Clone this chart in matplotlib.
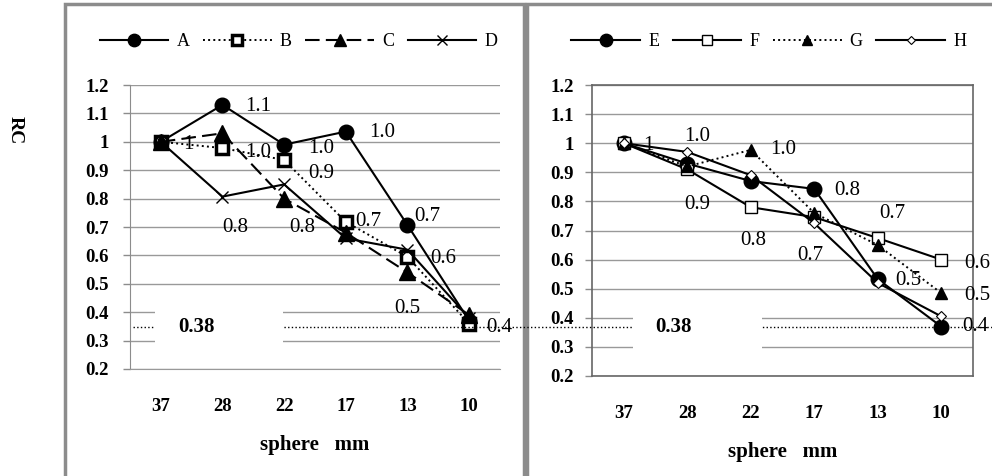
# recovery coefficient charts, two panels side by side
import matplotlib
matplotlib.use("Agg")
import matplotlib.pyplot as plt
from matplotlib.patches import Rectangle
from matplotlib.lines import Line2D

plt.rcParams['font.family'] = ['Liberation Serif', 'DejaVu Serif']
plt.rcParams['font.size'] = 12

# sphere sizes on the x axis
spheres = ["37", "28", "22", "17", "13", "10"]
y_ticks = [0.2, 0.3, 0.4, 0.5, 0.6, 0.7, 0.8, 0.9, 1.0, 1.1, 1.2]
y_tick_labels = ["0.2", "0.3", "0.4", "0.5", "0.6", "0.7", "0.8", "0.9", "1", "1.1", "1.2"]

# left panel series
rc_a = [1.0, 1.13, 0.99, 1.036, 0.707, 0.37]
rc_b = [1.0, 0.978, 0.936, 0.718, 0.595, 0.36]
rc_c = [1.0, 1.03, 0.80, 0.68, 0.54, 0.39]
rc_d = [1.0, 0.807, 0.85, 0.66, 0.62, 0.38]

# right panel series
rc_e = [1.0, 0.93, 0.87, 0.843, 0.533, 0.37]
rc_f = [1.0, 0.91, 0.78, 0.746, 0.674, 0.60]
rc_g = [1.0, 0.92, 0.977, 0.76, 0.65, 0.485]
rc_h = [1.0, 0.97, 0.89, 0.725, 0.52, 0.405]

# data labels shown on the chart (None = no label)
labels_a = ["1", "1.1", "1.0", "1.0", "0.7", None]
labels_b = [None, "1.0", "0.9", "0.7", "0.6", "0.4"]
labels_c = [None, None, "0.8", None, "0.5", None]
labels_d = [None, "0.8", None, None, None, None]
labels_e = ["1", None, None, "0.8", "0.5", "0.4"]
labels_f = [None, "0.9", "0.8", None, "0.7", "0.6"]
labels_g = [None, None, "1.0", None, None, "0.5"]
labels_h = [None, "1.0", None, "0.7", None, None]

reference_label = "0.38"

# where each data label sits relative to its point, in points
offsets_a = [(20, -2), (26, -1.5), (27, -2.5), (26, -1), (14, 6), (0, 0)]
offsets_b = [(0, 0), (26, -3), (27, -9.5), (16, 0), (26, -1), (22, -2.5)]
offsets_c = [(0, 0), (0, 0), (13, -21), (0, 0), (0, -26), (0, 0)]
offsets_d = [(0, 0), (9, -22.5), (0, 0), (0, 0), (0, 0), (0, 0)]
offsets_e = [(17.5, -1.3), (0, 0), (0, 0), (23.6, -1), (21.8, -0.7), (24.3, 0)]
offsets_f = [(0, 0), (7, -25.6), (1.6, -23.6), (0, 0), (10.3, 18), (26, -2.5)]
offsets_g = [(0, 0), (0, 0), (23.4, 0), (0, 0), (0, 0), (26, -1.4)]
offsets_h = [(0, 0), (7, 11), (0, 0), (-3, -23), (0, 0), (0, 0)]

fig = plt.figure(figsize=(9.92, 4.76), dpi=100)

# gray frames around each panel
fig.patches.append(Rectangle((0.0655, -0.02), 0.4627, 1.0116, transform=fig.transFigure,
                             facecolor='none', edgecolor='#8c8c8c', linewidth=2.5, zorder=1))
fig.patches.append(Rectangle((0.531, -0.02), 0.48, 1.0116, transform=fig.transFigure,
                             facecolor='none', edgecolor='#8c8c8c', linewidth=2.5, zorder=1))

ax_left = fig.add_axes([0.131, 0.2248, 0.373, 0.5966])
ax_right = fig.add_axes([0.5968, 0.2101, 0.384, 0.6113])

x = list(range(len(spheres)))


def draw_series(ax, values, labels, offsets, **style):
    line, = ax.plot(x, values, color='black', clip_on=False, **style)
    for i, text in enumerate(labels):
        if text is None:
            continue
        ax.annotate(text, (x[i], values[i]), xytext=offsets[i], textcoords='offset points',
                    ha='center', va='center', fontsize=15, annotation_clip=False)
    return line


# left panel lines
la = draw_series(ax_left, rc_a, labels_a, offsets_a, linestyle='-', linewidth=1.5,
                 marker='o', markersize=10.5, label='A')
lb = draw_series(ax_left, rc_b, labels_b, offsets_b, linestyle=':', linewidth=1.4,
                 marker='s', markersize=9, markerfacecolor='white', markeredgewidth=2.5, label='B')
lc = draw_series(ax_left, rc_c, labels_c, offsets_c, linestyle=(0, (7, 3)), linewidth=1.5,
                 marker='^', markersize=11, label='C')
ld = draw_series(ax_left, rc_d, labels_d, offsets_d, linestyle='-', linewidth=1.5,
                 marker='x', markersize=9, markeredgewidth=1, label='D')

# right panel lines
le = draw_series(ax_right, rc_e, labels_e, offsets_e, linestyle='-', linewidth=1.5,
                 marker='o', markersize=10.5, label='E')
lf = draw_series(ax_right, rc_f, labels_f, offsets_f, linestyle='-', linewidth=1.5,
                 marker='s', markersize=9, markerfacecolor='white', markeredgewidth=1, label='F')
lg = draw_series(ax_right, rc_g, labels_g, offsets_g, linestyle=':', linewidth=1.4,
                 marker='^', markersize=9, label='G')
lh = draw_series(ax_right, rc_h, labels_h, offsets_h, linestyle='-', linewidth=1.5,
                 marker='D', markersize=5, markerfacecolor='white', markeredgewidth=0.8, label='H')

# shared axis styling
for ax in [ax_left, ax_right]:
    ax.set_xlim(-0.5, len(spheres) - 0.5)
    ax.set_ylim(0.2, 1.2)
    ax.set_yticks(y_ticks)
    ax.set_yticklabels(y_tick_labels, fontweight='bold', fontsize=13.5)
    ax.set_xticks(x)
    ax.set_xticklabels(spheres, fontweight='bold', fontsize=13.5)
    ax.tick_params(axis='x', length=0, pad=21)
    ax.tick_params(axis='y', direction='out', length=5, color='#8c8c8c', width=1)
    ax.grid(axis='y', color='#999999', linewidth=1)
    ax.set_axisbelow(True)
    ax.set_xlabel("sphere   mm", fontweight='bold', fontsize=15, labelpad=14)

ax_left.tick_params(axis='y', pad=10)
ax_right.tick_params(axis='y', pad=8)

ax_left.spines['top'].set_visible(False)
ax_left.spines['right'].set_visible(False)
ax_left.spines['left'].set_color('#8c8c8c')
ax_left.spines['bottom'].set_color('#999999')
for side in ['top', 'right', 'left', 'bottom']:
    ax_right.spines[side].set_color('#666666')
    ax_right.spines[side].set_linewidth(1.2)

# legends above each panel
fig.legend(handles=[la, lb, lc, ld], loc='center', bbox_to_anchor=(0.301, 0.912), ncol=4,
           frameon=False, handlelength=3.8, handletextpad=0.45, columnspacing=0.75,
           markerscale=0.85, fontsize=13)
fig.legend(handles=[le, lf, lg, lh], loc='center', bbox_to_anchor=(0.775, 0.912), ncol=4,
           frameon=False, handlelength=3.8, handletextpad=0.45, columnspacing=0.75,
           markerscale=0.85, fontsize=13)

# dotted reference line across both panels with its white label boxes
fig.lines.append(Line2D([0.134, 1.0], [0.313, 0.313], transform=fig.transFigure,
                        color='black', linestyle=':', linewidth=1, zorder=2))
fig.patches.append(Rectangle((0.156, 0.257), 0.129, 0.108, transform=fig.transFigure,
                             facecolor='white', edgecolor='none', zorder=2.5))
fig.patches.append(Rectangle((0.638, 0.257), 0.130, 0.108, transform=fig.transFigure,
                             facecolor='white', edgecolor='none', zorder=2.5))
fig.text(0.1976, 0.313, reference_label, ha='center', va='center', fontweight='bold',
         fontsize=15, zorder=3)
fig.text(0.6794, 0.313, reference_label, ha='center', va='center', fontweight='bold',
         fontsize=15, zorder=3)

# y axis title on the far left
fig.text(0.0151, 0.727, "RC", rotation=-90, ha='center', va='center', fontweight='bold',
         fontsize=14)

plt.savefig("out.png", dpi=100)
